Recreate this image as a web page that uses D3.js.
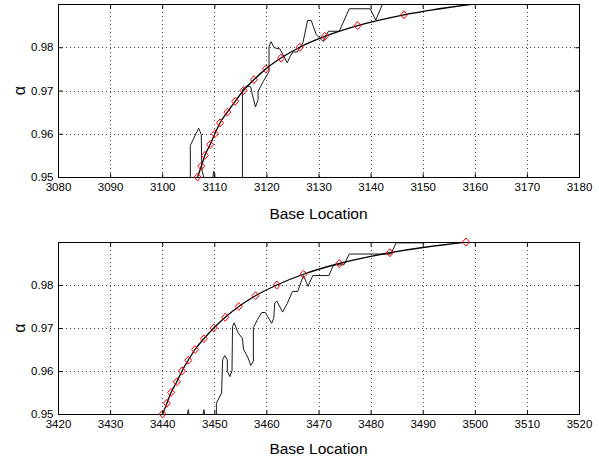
<!DOCTYPE html>
<html>
<head>
<meta charset="utf-8">
<script src="https://cdn.jsdelivr.net/npm/d3@7"></script>
<style>
  body { margin: 0; background: #fff; }
  svg { display: block; font-family: "Liberation Sans", Arial, sans-serif; }
  .axis path { display: none; }
  .axis line { stroke: #000; }
  .axis text { font-size: 11.5px; fill: #000; }
</style>
</head>
<body>
<script>
// alpha levels of the fitted curve (one diamond per level)
var fitAlpha = [0.95, 0.9525, 0.955, 0.9575, 0.96, 0.9625, 0.965, 0.9675, 0.97,
                0.9725, 0.975, 0.9775, 0.98, 0.9825, 0.985, 0.9875, 0.99];

// top panel
var topFitX = [3106.8, 3107.5, 3108.2, 3109.2, 3110.1, 3111.1, 3112.5, 3114.0, 3115.6,
               3117.6, 3119.9, 3122.8, 3126.4, 3131.2, 3137.5, 3146.4, 3159.7];
var topMarks = 16; // last level has no diamond on top panel
var topRawX = [3105.4, 3105.4, 3107.0, 3107.5, 3107.6, 3108.2, 3109.6, 3109.9, 3110.2, 3115.4,
               3115.4, 3116.3, 3117.0, 3117.3, 3117.9, 3118.4, 3118.4, 3119.4, 3120.5, 3120.5,
               3120.9, 3121.5, 3122.6, 3124.0, 3124.6, 3125.1, 3125.9, 3127.0, 3127.4, 3127.9,
               3128.6, 3129.1, 3129.6, 3130.9, 3131.9, 3134.0, 3135.9, 3139.9, 3141.0, 3142.3, 3142.6];
var topRawA = [0.9490, 0.9573, 0.9613, 0.9598, 0.9517, 0.9490, 0.9490, 0.9513, 0.9490, 0.9490,
               0.9702, 0.9711, 0.9708, 0.9691, 0.9662, 0.9679, 0.9698, 0.9721, 0.9744, 0.9801,
               0.9813, 0.9799, 0.9796, 0.9764, 0.9780, 0.9789, 0.9789, 0.9810, 0.9833, 0.9862,
               0.9862, 0.9845, 0.9829, 0.9813, 0.9837, 0.9837, 0.9889, 0.9889, 0.9863, 0.99, 0.9907];
var topTicks = [3080, 3090, 3100, 3110, 3120, 3130, 3140, 3150, 3160, 3170, 3180];

// bottom panel
var botFitX = [3440.1, 3440.9, 3441.7, 3442.8, 3443.8, 3445.0, 3446.3, 3448.0, 3449.9,
               3452.1, 3454.7, 3457.9, 3462.0, 3467.1, 3474.0, 3483.7, 3498.3];
var botMarks = 17;
var botRawX = [3444.7, 3445.0, 3445.3, 3447.7, 3448.0, 3448.3, 3450.4, 3450.4, 3451.4, 3451.6,
               3452.0, 3452.5, 3452.5, 3453.0, 3453.4, 3453.5, 3453.8, 3454.6, 3455.4, 3455.6,
               3456.5, 3457.0, 3457.5, 3457.5, 3458.3, 3459.1, 3459.8, 3461.0, 3461.4, 3461.6,
               3462.0, 3463.1, 3464.0, 3465.0, 3466.0, 3467.1, 3468.0, 3468.9, 3472.0, 3472.9,
               3474.9, 3475.9, 3483.9, 3484.9, 3490.2, 3491.4, 3491.6];
var botRawA = [0.9490, 0.951, 0.9490, 0.9490, 0.951, 0.9490, 0.9490, 0.9525, 0.9549, 0.9626,
               0.9636, 0.9626, 0.9599, 0.9587, 0.9601, 0.9703, 0.9712, 0.9688, 0.9676, 0.9651,
               0.9630, 0.9613, 0.9623, 0.9701, 0.9720, 0.9736, 0.9736, 0.9711, 0.9722, 0.9758,
               0.9763, 0.9737, 0.9757, 0.9785, 0.9785, 0.9822, 0.9797, 0.9822, 0.9822, 0.9847,
               0.9847, 0.9872, 0.9872, 0.9898, 0.9898, 0.99, 0.9907];
var botTicks = [3420, 3430, 3440, 3450, 3460, 3470, 3480, 3490, 3500, 3510, 3520];

var yTicks = [0.95, 0.96, 0.97, 0.98];

var W = 599, H = 459;
var left = 58, right = 579;

var svg = d3.select("body").append("svg")
    .attr("width", W)
    .attr("height", H);

drawPanel("p1", 4, 177, topFitX, topMarks, topRawX, topRawA, topTicks, 219);
drawPanel("p2", 242, 414, botFitX, botMarks, botRawX, botRawA, botTicks, 454);

function drawPanel(id, top, bottom, fitX, nMarks, rawX, rawA, xTicks, labelY) {
  var x = d3.scaleLinear()
      .domain([xTicks[0], xTicks[xTicks.length - 1]])
      .range([left, right]);
  var y = d3.scaleLinear()
      .domain([0.95, 0.99])
      .range([bottom, top]);

  var g = svg.append("g");

  g.append("clipPath").attr("id", "clip-" + id)
    .append("rect")
      .attr("x", left).attr("y", top)
      .attr("width", right - left).attr("height", bottom - top + 0.5);

  // dotted grid
  g.selectAll(".vgrid").data(xTicks.slice(1, -1)).enter().append("line")
      .attr("x1", function(d) { return Math.round(x(d)) + 0.5; })
      .attr("x2", function(d) { return Math.round(x(d)) + 0.5; })
      .attr("y1", top).attr("y2", bottom)
      .attr("stroke", "#444")
      .attr("stroke-dasharray", "1,3");
  g.selectAll(".hgrid").data(yTicks.slice(1)).enter().append("line")
      .attr("y1", function(d) { return Math.round(y(d)) + 0.5; })
      .attr("y2", function(d) { return Math.round(y(d)) + 0.5; })
      .attr("x1", left).attr("x2", right)
      .attr("stroke", "#444")
      .attr("stroke-dasharray", "1,3");

  var plot = g.append("g").attr("clip-path", "url(#clip-" + id + ")");

  // measured alpha
  var raw = rawX.map(function(d, i) { return [d, rawA[i]]; });
  plot.append("path")
      .datum(raw)
      .attr("fill", "none")
      .attr("stroke", "#1a1a1a")
      .attr("stroke-width", 1)
      .attr("d", d3.line()
        .x(function(d) { return x(d[0]); })
        .y(function(d) { return y(d[1]); }));

  // fitted curve
  var fit = fitX.map(function(d, i) { return [d, fitAlpha[i]]; });
  plot.append("path")
      .datum(fit)
      .attr("fill", "none")
      .attr("stroke", "#000")
      .attr("stroke-width", 1.3)
      .attr("d", d3.line()
        .curve(d3.curveMonotoneX)
        .x(function(d) { return x(d[0]); })
        .y(function(d) { return y(d[1]); }));

  // frame
  g.append("rect")
      .attr("x", left + 0.5).attr("y", top + 0.5)
      .attr("width", right - left).attr("height", bottom - top)
      .attr("fill", "none")
      .attr("stroke", "#000")
      .attr("stroke-width", 1);

  // diamonds
  g.selectAll(".dia").data(fit.slice(0, nMarks)).enter().append("path")
      .attr("transform", function(d) { return "translate(" + x(d[0]) + "," + y(d[1]) + ")"; })
      .attr("d", "M0,-4L3.5,0L0,4L-3.5,0Z")
      .attr("fill", "none")
      .attr("stroke", "#ff0000")
      .attr("stroke-width", 1);

  // axes, ticks point inward like matlab
  g.append("g").attr("class", "axis")
      .attr("transform", "translate(0," + (bottom + 0.5) + ")")
      .call(d3.axisBottom(x).tickValues(xTicks).tickSizeInner(-4).tickSizeOuter(0).tickPadding(5)
        .tickFormat(d3.format("d")));
  g.append("g").attr("class", "axis")
      .attr("transform", "translate(0," + (top + 0.5) + ")")
      .call(d3.axisTop(x).tickValues(xTicks).tickSizeInner(-4).tickSizeOuter(0).tickFormat(""));
  g.append("g").attr("class", "axis")
      .attr("transform", "translate(" + (left + 0.5) + ",0)")
      .call(d3.axisLeft(y).tickValues(yTicks).tickSizeInner(-4).tickSizeOuter(0).tickPadding(5)
        .tickFormat(d3.format(".2f")));
  g.append("g").attr("class", "axis")
      .attr("transform", "translate(" + (right + 0.5) + ",0)")
      .call(d3.axisRight(y).tickValues(yTicks).tickSizeInner(-4).tickSizeOuter(0).tickFormat(""));

  g.append("text")
      .attr("x", (left + right) / 2)
      .attr("y", labelY)
      .attr("text-anchor", "middle")
      .style("font-size", "15.5px")
      .text("Base Location");

  g.append("text")
      .attr("transform", "translate(25," + ((top + bottom) / 2) + ") rotate(-90)")
      .attr("text-anchor", "middle")
      .style("font-size", "16px")
      .text("α");
}
</script>
</body>
</html>
